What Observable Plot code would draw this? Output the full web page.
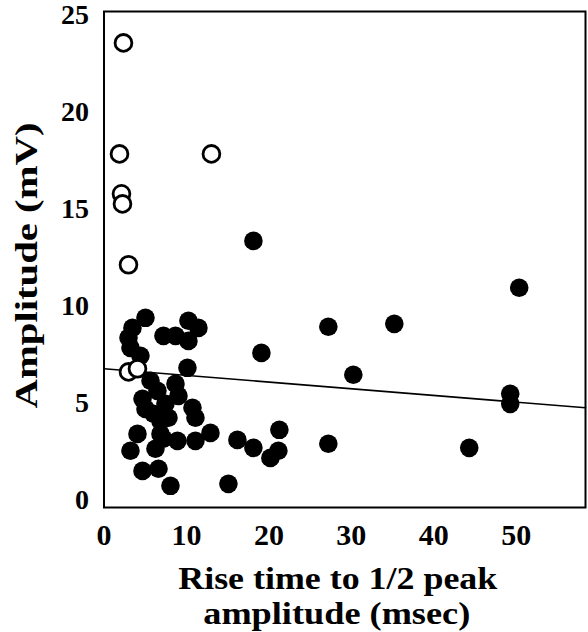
<!DOCTYPE html>
<html>
<head>
<meta charset="utf-8">
<script src="https://cdn.jsdelivr.net/npm/d3@7"></script>
<script src="https://cdn.jsdelivr.net/npm/@observablehq/plot@0.6"></script>
<style>
  body { margin: 0; background: #fff; }
</style>
</head>
<body>
<div id="chart"></div>
<script>
// Filled circles: rise time (msec) and amplitude (mV)
const filledX = [5.03, 3.45, 2.97, 3.21, 4.42, 7.21, 8.67, 10.24, 11.45, 10.24,
                 10.12, 4.67, 6.48, 7.45, 7.82, 6.00, 10.73, 11.09, 8.67, 5.64,
                 4.06, 6.85, 12.91, 3.21, 6.24, 7.21, 8.91, 11.09, 4.67, 6.61,
                 8.06, 15.09, 16.18, 18.12, 50.36, 27.21, 35.21, 19.09, 30.24, 49.27,
                 49.27, 21.27, 21.15, 20.18, 18.12, 27.21, 44.30, 5.03, 9.03, 6.85];
const filledY = [9.29, 8.77, 8.26, 7.74, 7.33, 8.36, 8.36, 9.14, 8.77, 8.10,
                 6.71, 5.11, 5.52, 4.85, 4.13, 4.34, 4.65, 4.13, 5.88, 6.04,
                 3.30, 3.30, 3.35, 2.43, 2.53, 3.05, 2.94, 2.94, 1.39, 1.50,
                 0.62, 0.72, 2.99, 13.26, 10.84, 8.83, 8.98, 7.48, 6.35, 5.37,
                 4.85, 3.51, 2.43, 2.06, 2.58, 2.79, 2.58, 4.59, 5.26, 3.97];
// Open circles
const openX = [2.36, 1.88, 13.03, 2.12, 2.24, 2.97, 2.97, 4.06];
const openY = [23.48, 17.75, 17.75, 15.69, 15.17, 12.03, 6.50, 6.66];
// Regression line ends
const fitX = [0, 58.4];
const fitY = [6.66, 4.65];
// Ticks and labels
const xTicks = [0, 10, 20, 30, 40, 50];
const yTicks = [0, 5, 10, 15, 20, 25];
const xTitle1 = "Rise time to 1/2 peak";
const xTitle2 = "amplitude (msec)";
const yTitle = "Amplitude (mV)";

const filled = filledX.map((x, i) => ({x, y: filledY[i]}));
const open = openX.map((x, i) => ({x, y: openY[i]}));
const fit = fitX.map((x, i) => ({x, y: fitY[i]}));

const font = "'Liberation Serif', 'Times New Roman', serif";

const chart = Plot.plot({
  width: 588,
  height: 632,
  marginLeft: 103.5,
  marginRight: 3,
  marginTop: 11,
  marginBottom: 125,
  style: {fontFamily: font, fontWeight: "bold", background: "#fff", color: "black"},
  x: {domain: [0, 58.4]},
  y: {domain: [-0.5, 25.1]},
  marks: [
    Plot.axisX(xTicks, {tickSize: 0, tickPadding: 16, fontSize: 30, fontWeight: "bold", label: null}),
    Plot.axisY(yTicks, {tickSize: 0, tickPadding: 15, dy: 2, fontSize: 28, fontWeight: "bold", label: null}),
    Plot.line(fit, {x: "x", y: "y", stroke: "black", strokeWidth: 1.6}),
    Plot.dot(filled, {x: "x", y: "y", r: 9.3, fill: "black", stroke: "none"}),
    Plot.dot(open, {x: "x", y: "y", r: 8.4, fill: "white", stroke: "black", strokeWidth: 2.8}),
    Plot.frame({stroke: "black", strokeWidth: 2}),
    Plot.text([xTitle1], {frameAnchor: "bottom", text: d => d, dx: -7, dy: 81, lineAnchor: "bottom",
      textAnchor: "middle", fontSize: 31, fontWeight: "bold", fill: "black"}),
    Plot.text([xTitle2], {frameAnchor: "bottom", text: d => d, dx: -8, dy: 116, lineAnchor: "bottom",
      textAnchor: "middle", fontSize: 31, fontWeight: "bold", fill: "black"}),
    Plot.text([yTitle], {frameAnchor: "left", text: d => d, dx: -67.5, dy: 6, rotate: -90, lineAnchor: "bottom",
      textAnchor: "middle", fontSize: 32, fontWeight: "bold", fill: "black"})
  ]
});

document.getElementById("chart").appendChild(chart);

// stretch titles to the reference widths
const widths = {[xTitle1]: 319, [xTitle2]: 267, [yTitle]: 286};
d3.select(chart).selectAll("text").each(function () {
  const w = widths[this.textContent];
  if (w) {
    this.setAttribute("textLength", w);
    this.setAttribute("lengthAdjust", "spacingAndGlyphs");
  }
});
</script>
</body>
</html>
